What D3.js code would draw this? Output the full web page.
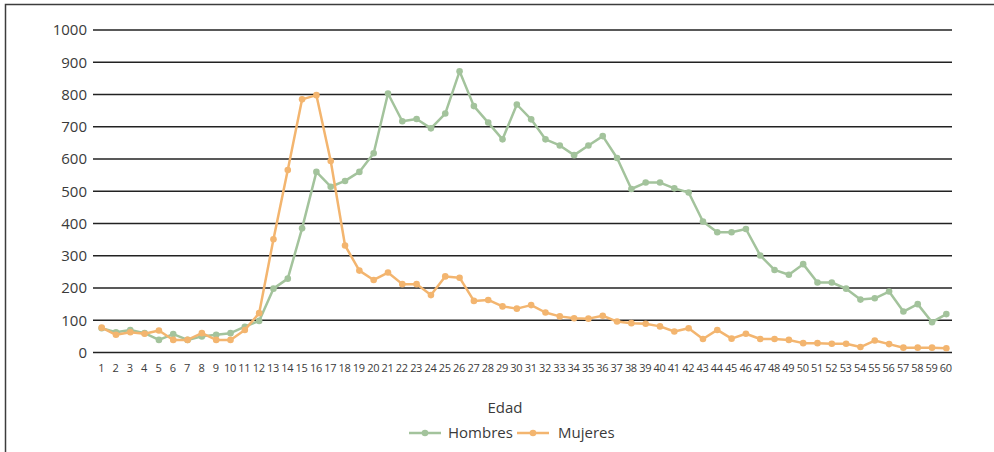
<!DOCTYPE html>
<html>
<head>
<meta charset="utf-8">
<script src="https://cdn.jsdelivr.net/npm/d3@7"></script>
<style>
  body { margin: 0; background: #fff; }
  text { font-family: "Open Sans", sans-serif; fill: #3a3a3a; }
</style>
</head>
<body>
<div id="chart"></div>
<script>
const edades = d3.range(1, 61).map(String);

const hombres = [75, 63, 70, 60, 39, 57, 39, 50, 55, 60,
  80, 98, 198, 229, 385, 560, 514, 532, 560, 618,
  803, 717, 724, 695, 741, 872, 764, 713, 661, 769,
  723, 661, 642, 612, 642, 671, 603, 507, 527, 527,
  509, 496, 406, 373, 373, 383, 301, 256, 241, 274,
  217, 217, 198, 164, 168, 189, 127, 150, 94, 119];

const mujeres = [77, 55, 63, 58, 68, 39, 39, 60, 39, 39,
  70, 122, 351, 566, 785, 798, 594, 332, 254, 225,
  248, 212, 212, 178, 236, 232, 160, 163, 143, 136,
  147, 124, 112, 106, 105, 114, 96, 91, 89, 81,
  65, 75, 42, 70, 43, 58, 42, 42, 39, 29,
  29, 27, 27, 17, 37, 26, 15, 15, 15, 13];

const yTicks = [0, 100, 200, 300, 400, 500, 600, 700, 800, 900, 1000];

const series = [
  { name: "Hombres", values: hombres, color: "#a3c39c" },
  { name: "Mujeres", values: mujeres, color: "#f3b56f" }
];

const width = 994;
const height = 452;

const svg = d3.select("#chart")
  .append("svg")
  .attr("width", width)
  .attr("height", height);

// marco
svg.append("path")
  .attr("d", `M5.5,${height} V4.5 H${width}`)
  .attr("fill", "none")
  .attr("stroke", "#3c3c3c")
  .attr("stroke-width", 1.5);

const x = d3.scaleBand().domain(edades).range([93, 952]);
const y = d3.scaleLinear().domain([0, 1000]).range([352.5, 30]);

// rejilla
svg.append("g")
  .selectAll("line")
  .data(yTicks)
  .enter()
  .append("line")
  .attr("x1", 93)
  .attr("x2", 952)
  .attr("y1", (d) => y(d))
  .attr("y2", (d) => y(d))
  .attr("stroke", "#222")
  .attr("stroke-width", 1.4);

svg.append("g")
  .selectAll("text")
  .data(yTicks)
  .enter()
  .append("text")
  .attr("x", 87)
  .attr("y", (d) => y(d))
  .attr("dy", "0.36em")
  .attr("text-anchor", "end")
  .style("font-size", "15px")
  .text((d) => d);

svg.append("g")
  .selectAll("text")
  .data(edades)
  .enter()
  .append("text")
  .attr("x", (d) => x(d) + x.bandwidth() / 2 + 1)
  .attr("y", 372)
  .attr("text-anchor", "middle")
  .style("font-size", "11px")
  .style("letter-spacing", "-0.3px")
  .text((d) => d);

const cx = (i) => x(edades[i]) + x.bandwidth() / 2 + 1.5;

const line = d3.line()
  .x((d, i) => cx(i))
  .y((d) => y(d));

series.forEach((s) => {
  const g = svg.append("g");
  g.append("path")
    .datum(s.values)
    .attr("d", line)
    .attr("fill", "none")
    .attr("stroke", s.color)
    .attr("stroke-width", 2.5)
    .attr("stroke-linejoin", "round");
  g.selectAll("circle")
    .data(s.values)
    .enter()
    .append("circle")
    .attr("cx", (d, i) => cx(i))
    .attr("cy", (d) => y(d))
    .attr("r", 3.3)
    .attr("fill", s.color);
});

// titulo eje y leyenda
svg.append("text")
  .attr("x", 505)
  .attr("y", 413)
  .attr("text-anchor", "middle")
  .style("font-size", "15px")
  .text("Edad");

const legendX = [409, 517];
series.forEach((s, i) => {
  const lg = svg.append("g").attr("transform", `translate(${legendX[i]},433)`);
  lg.append("line")
    .attr("x1", 0).attr("x2", 32)
    .attr("stroke", s.color)
    .attr("stroke-width", 2.5);
  lg.append("circle")
    .attr("cx", 16).attr("r", 3.3)
    .attr("fill", s.color);
  lg.append("text")
    .attr("x", i === 0 ? 39 : 41)
    .attr("dy", "0.36em")
    .style("font-size", "15px")
    .text(s.name);
});
</script>
</body>
</html>
